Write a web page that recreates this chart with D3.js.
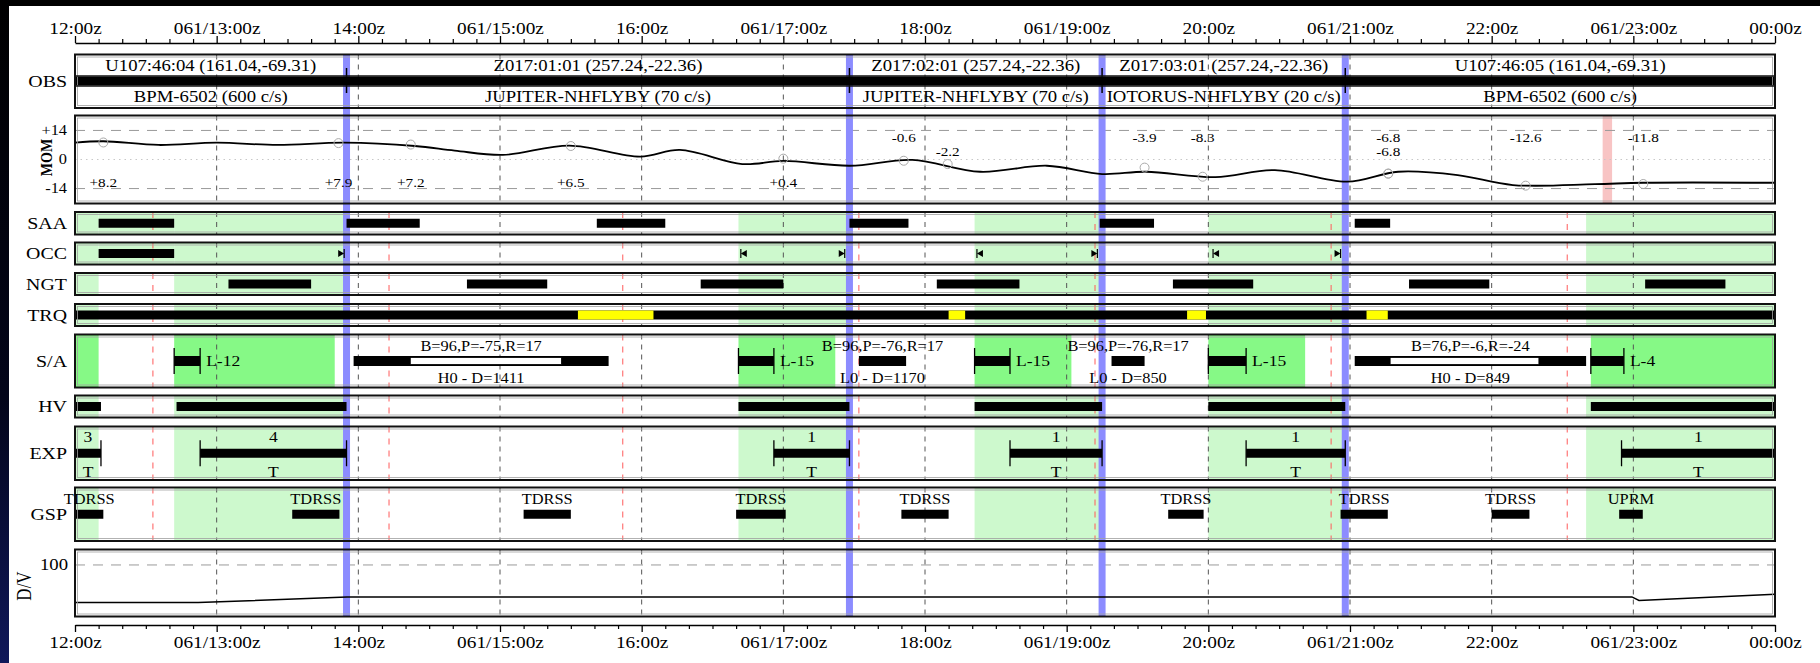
<!DOCTYPE html>
<html>
<head>
<meta charset="utf-8">
<title>timeline 061</title>
<script src="https://cdn.jsdelivr.net/npm/d3@7/dist/d3.min.js"></script>
<style>
body { margin: 0; background: #fff; }
svg { display: block; }
</style>
</head>
<body>
<svg id="chart" width="1820" height="663"></svg>
<script>
// values; times are hh:mm, "24:00" is 00:00z of the next day

var tickHours = [12, 13, 14, 15, 16, 17, 18, 19, 20, 21, 22, 23, 24];
var tickLabels = ["12:00z", "061/13:00z", "14:00z", "061/15:00z", "16:00z", "061/17:00z",
	"18:00z", "061/19:00z", "20:00z", "061/21:00z", "22:00z", "061/23:00z", "00:00z"];

// observation changes (blue bars) and what is observed in between
var obsBreaks = ["13:55", "17:28", "19:15", "20:58"];
var obsTargets = ["U107:46:04 (161.04,-69.31)", "Z017:01:01 (257.24,-22.36)",
	"Z017:02:01 (257.24,-22.36)", "Z017:03:01 (257.24,-22.36)", "U107:46:05 (161.04,-69.31)"];
var obsModes = ["BPM-6502 (600 c/s)", "JUPITER-NHFLYBY (70 c/s)", "JUPITER-NHFLYBY (70 c/s)",
	"IOTORUS-NHFLYBY (20 c/s)", "BPM-6502 (600 c/s)"];

var orbitMarks = ["12:33", "14:13", "15:52", "17:32", "19:12", "20:52", "22:32"];

var dayGreen = [["12:00", "12:10"], ["12:42", "13:55"], ["16:41", "17:28"],
	["18:21", "19:15"], ["20:00", "20:58"], ["22:40", "24:00"]];
var saaGreen = [["12:10", "12:42"]];
var slewGreen = [["12:00", "12:10"], ["12:42", "13:50"], ["16:41", "17:22"],
	["18:21", "19:02"], ["20:00", "20:41"], ["22:42", "24:00"]];

// momentum
var momHours = [12.00, 12.20, 12.59, 13.00, 13.43, 13.90, 14.40, 14.68, 15.02, 15.49, 15.99,
	16.27, 16.71, 17.00, 17.47, 17.91, 18.39, 18.86, 19.25, 19.56, 20.05, 20.47, 20.98,
	21.34, 21.76, 22.15, 22.73, 23.07, 24.00];
var momValues = [8.1, 8.8, 7.0, 8.1, 7.0, 8.1, 6.5, 4.3, 2.2, 6.7, 1.4,
	4.6, -2.2, -0.7, -3.0, -0.2, -5.9, -3.0, -7.0, -5.9, -8.5, -5.1, -10.7,
	-5.9, -7.5, -12.3, -11.9, -11.2, -11.2];
var momMarkHours = [12.20, 13.86, 14.37, 15.50, 17.00, 17.85, 18.16, 19.55, 19.96, 21.27, 21.27, 22.24, 23.07];
var momMarkValues = [8.2, 7.9, 7.2, 6.5, 0.4, -0.6, -2.2, -3.9, -8.3, -6.8, -6.8, -12.6, -11.8];
var momTicks = [14, 0, -14];
var momPink = ["22:47", "22:51"];

var saaBars = [["12:10", "12:42"], ["13:55", "14:26"], ["15:41", "16:10"],
	["17:28", "17:53"], ["19:14", "19:37"], ["21:02", "21:17"]];
var occBars = [["12:10", "12:42"]];
var occStarts = ["16:42", "18:22", "20:02"];
var occEnds = ["13:54", "17:26", "19:13", "20:56"];
var ngtBars = [["13:05", "13:40"], ["14:46", "15:20"], ["16:25", "17:00"], ["18:05", "18:40"],
	["19:45", "20:19"], ["21:25", "21:59"], ["23:05", "23:39"]];
var trqYellow = [["15:33", "16:05"], ["18:10", "18:17"], ["19:51", "19:59"], ["21:07", "21:16"]];

var holdStart = ["12:42", "16:41", "18:21", "20:00", "22:42"];
var holdEnd = ["12:53", "16:56", "18:36", "20:16", "22:56"];
var holdLabel = ["L-12", "L-15", "L-15", "L-15", "L-4"];

var slewStart = ["13:58", "17:32", "19:19", "21:02"];
var slewEnd = ["15:46", "17:52", "19:33", "22:40"];
var slewHollow = [["14:22", "15:26"], null, null, ["21:17", "22:20"]];
var slewAttitude = ["B=96,P=-75,R=17", "B=96,P=-76,R=17", "B=96,P=-76,R=17", "B=76,P=-6,R=-24"];
var slewLabel = ["H0 - D=1411", "L0 - D=1170", "L0 - D=850", "H0 - D=849"];

var hvBars = [["12:00", "12:11"], ["12:43", "13:55"], ["16:41", "17:28"],
	["18:21", "19:15"], ["20:00", "20:58"], ["22:42", "24:00"]];

var expBars = [["12:00", "12:11"], ["12:53", "13:55"], ["16:56", "17:28"],
	["18:36", "19:15"], ["20:16", "20:58"], ["22:55", "24:00"]];
var expCount = ["3", "4", "1", "1", "1", "1"];
var expMode = ["T", "T", "T", "T", "T", "T"];

var gspBars = [["12:00", "12:12"], ["13:32", "13:52"], ["15:10", "15:30"], ["16:40", "17:01"],
	["17:50", "18:10"], ["19:43", "19:58"], ["20:56", "21:16"], ["22:00", "22:16"], ["22:54", "23:04"]];
var gspLabel = ["TDRSS", "TDRSS", "TDRSS", "TDRSS", "TDRSS", "TDRSS", "TDRSS", "TDRSS", "UPRM"];

var dvHours = [12.00, 12.87, 13.92, 22.99, 23.04, 24.00];
var dvValues = [27, 27, 38, 38, 31, 43];


function hm(s) {
	var p = s.split(":");
	return +p[0] + (+p[1]) / 60;
}

var svg = d3.select("#chart");
var X0 = 75, X1 = 1775;
var x = d3.scaleLinear().domain([12, 24]).range([X0, X1]);
var SX = 1.17;   // the original picture is stretched sideways, text too
var SERIF = "'Liberation Serif','Times New Roman',Times,serif";

var rows = [
	{key: "OBS", y0: 54.5, y1: 108},
	{key: "MOM", y0: 115.5, y1: 203.5},
	{key: "SAA", y0: 212, y1: 234.5},
	{key: "OCC", y0: 242.5, y1: 264.5},
	{key: "NGT", y0: 273, y1: 295},
	{key: "TRQ", y0: 304, y1: 326},
	{key: "S/A", y0: 334.5, y1: 387.5},
	{key: "HV", y0: 395.5, y1: 417.5},
	{key: "EXP", y0: 426.5, y1: 480},
	{key: "GSP", y0: 487.5, y1: 541},
	{key: "D/V", y0: 549.5, y1: 616.5}
];
var row = {};
rows.forEach(function(r){
	r.mid = (r.y0 + r.y1) / 2;
	row[r.key] = r;
});

var yMom = d3.scaleLinear().domain([-21.2, 21.2]).range([row.MOM.y1, row.MOM.y0]);
var yDv = d3.scaleLinear().domain([0, 130]).range([row["D/V"].y1, row["D/V"].y0]);

// edge of the screenshot
var defs = svg.append("defs");
var grad = defs.append("linearGradient").attr("id", "edge").attr("x1", 0).attr("y1", 0).attr("x2", 0).attr("y2", 1);
grad.append("stop").attr("offset", "0").attr("stop-color", "#000");
grad.append("stop").attr("offset", "0.6").attr("stop-color", "#03051a");
grad.append("stop").attr("offset", "1").attr("stop-color", "#10185a");
svg.append("rect").attr("x", 0).attr("y", 0).attr("width", 1820).attr("height", 6).attr("fill", "#000");
svg.append("rect").attr("x", 0).attr("y", 0).attr("width", 9).attr("height", 663).attr("fill", "url(#edge)");

var gBack = svg.append("g"),
	gGrid = svg.append("g"),
	gBlue = svg.append("g"),
	gMark = svg.append("g"),
	gFrame = svg.append("g"),
	gText = svg.append("g");

function put(g, px, py, s, size, anchor, weight) {
	return g.append("text")
		.attr("transform", "translate(" + px + "," + py + ") scale(" + SX + ",1)")
		.attr("text-anchor", anchor || "middle")
		.attr("dy", "0.34em")
		.attr("font-family", SERIF)
		.attr("font-size", size)
		.attr("font-weight", weight || null)
		.text(s);
}

function span(g, key, list, h, color) {
	var r = row[key];
	g.selectAll(null).data(list).enter().append("rect")
		.attr("x", function(d){ return x(hm(d[0])); })
		.attr("width", function(d){ return x(hm(d[1])) - x(hm(d[0])); })
		.attr("y", h ? r.mid - h / 2 : r.y0)
		.attr("height", h ? h : r.y1 - r.y0)
		.attr("fill", color);
}

// panel backgrounds and shading
rows.forEach(function(r){
	gBack.append("rect").attr("x", X0).attr("y", r.y0).attr("width", X1 - X0).attr("height", r.y1 - r.y0).attr("fill", "#fff");
});
["SAA", "OCC", "NGT", "TRQ", "HV", "EXP", "GSP"].forEach(function(k){
	span(gBack, k, dayGreen, 0, "#cdf9cd");
});
span(gBack, "SAA", saaGreen, 0, "#cdf9cd");
span(gBack, "OCC", saaGreen, 0, "#cdf9cd");
span(gBack, "S/A", slewGreen, 0, "#86f986");
gBack.append("rect")
	.attr("x", x(hm(momPink[0]))).attr("width", x(hm(momPink[1])) - x(hm(momPink[0])))
	.attr("y", row.MOM.y0).attr("height", row.MOM.y1 - row.MOM.y0)
	.attr("fill", "#f8c4c4");

// hour grid
rows.forEach(function(r){
	gGrid.selectAll(null).data(tickHours.slice(1, -1)).enter().append("line")
		.attr("x1", function(d){ return x(d); }).attr("x2", function(d){ return x(d); })
		.attr("y1", r.y0).attr("y2", r.y1)
		.attr("stroke", "#555").attr("stroke-width", 1).attr("stroke-dasharray", "5,5");
});
["SAA", "OCC", "NGT", "TRQ", "S/A", "HV", "EXP", "GSP"].forEach(function(k){
	var r = row[k];
	gGrid.selectAll(null).data(orbitMarks).enter().append("line")
		.attr("x1", function(d){ return x(hm(d)); }).attr("x2", function(d){ return x(hm(d)); })
		.attr("y1", r.y0).attr("y2", r.y1)
		.attr("stroke", "#ff5a5a").attr("stroke-width", 1).attr("stroke-dasharray", "6,6");
});
momTicks.forEach(function(v){
	gGrid.append("line").attr("x1", X0).attr("x2", X1).attr("y1", yMom(v)).attr("y2", yMom(v))
		.attr("stroke", v == 0 ? "#c8c8c8" : "#9a9a9a").attr("stroke-width", 1)
		.attr("stroke-dasharray", v == 0 ? "1.5,4" : "10,8");
});
gGrid.append("line").attr("x1", X0).attr("x2", X1).attr("y1", yDv(100)).attr("y2", yDv(100))
	.attr("stroke", "#9a9a9a").attr("stroke-width", 1).attr("stroke-dasharray", "10,8");

// observation changes
gBlue.selectAll(null).data(obsBreaks).enter().append("rect")
	.attr("x", function(d){ return x(hm(d)) - 3.5; })
	.attr("width", 7)
	.attr("y", row.OBS.y0).attr("height", row["D/V"].y1 - row.OBS.y0)
	.attr("fill", "#8c8cff");

// OBS
var obsEdges = ["12:00"].concat(obsBreaks, ["24:00"]);
gMark.append("rect").attr("x", X0).attr("width", X1 - X0).attr("y", 76.5).attr("height", 9).attr("fill", "#000");
gMark.selectAll(null).data(obsBreaks).enter().append("line")
	.attr("x1", function(d){ return x(hm(d)); }).attr("x2", function(d){ return x(hm(d)); })
	.attr("y1", 68).attr("y2", 93).attr("stroke", "#000").attr("stroke-width", 1.5);
obsTargets.forEach(function(s, i){
	var cx = (x(hm(obsEdges[i])) + x(hm(obsEdges[i + 1]))) / 2;
	put(gText, cx, 66, s, 16);
	put(gText, cx, 96.5, obsModes[i], 16);
});

// MOM
var momLine = d3.line()
	.x(function(d){ return x(d[0]); })
	.y(function(d){ return yMom(d[1]); })
	.curve(d3.curveCatmullRom);
gMark.append("path")
	.datum(momHours.map(function(h, i){ return [h, momValues[i]]; }))
	.attr("d", momLine).attr("fill", "none").attr("stroke", "#000").attr("stroke-width", 1.8);
gMark.selectAll(null).data(momMarkHours).enter().append("circle")
	.attr("cx", function(d){ return x(d); })
	.attr("cy", function(d, i){ return yMom(momMarkValues[i]); })
	.attr("r", 4.5).attr("fill", "none").attr("stroke", "#aaa").attr("stroke-width", 1);
var lastTop = -1e9, topLevel = 0;
momMarkHours.forEach(function(h, i){
	var v = momMarkValues[i], px = x(h), py;
	var s = (v > 0 ? "+" : "") + v.toFixed(1);
	if (v > 0) {
		py = 183;
	} else {
		topLevel = (px - lastTop < 50 && topLevel == 0) ? 1 : 0;
		lastTop = px;
		py = topLevel ? 151.5 : 138;
	}
	put(gText, px, py, s, 13);
});

// SAA, OCC, NGT, TRQ
span(gMark, "SAA", saaBars, 9, "#000");
span(gMark, "OCC", occBars, 9, "#000");
span(gMark, "NGT", ngtBars, 9, "#000");
span(gMark, "TRQ", [["12:00", "24:00"]], 9, "#000");
span(gMark, "TRQ", trqYellow, 9, "#ffff00");

function occMark(t, dir) {
	var px = x(hm(t)), cy = row.OCC.mid;
	gMark.append("line").attr("x1", px).attr("x2", px).attr("y1", cy - 4.5).attr("y2", cy + 4.5)
		.attr("stroke", "#000").attr("stroke-width", 1.2);
	gMark.append("path")
		.attr("d", "M" + px + "," + cy + "L" + (px - 6 * dir) + "," + (cy - 3.5) + "L" + (px - 6 * dir) + "," + (cy + 3.5) + "Z")
		.attr("fill", "#000");
}
occStarts.forEach(function(t){ occMark(t, -1); });
occEnds.forEach(function(t){ occMark(t, 1); });

// S/A
var sa = row["S/A"];
function endTick(px, r) {
	gMark.append("line").attr("x1", px).attr("x2", px).attr("y1", r.mid - 13).attr("y2", r.mid + 13)
		.attr("stroke", "#000").attr("stroke-width", 1.3);
}
holdStart.forEach(function(t, i){
	var a = x(hm(t)), b = x(hm(holdEnd[i]));
	gMark.append("rect").attr("x", a).attr("width", b - a).attr("y", sa.mid - 5).attr("height", 10).attr("fill", "#000");
	endTick(a, sa);
	endTick(b, sa);
	put(gText, b + 6, sa.mid, holdLabel[i], 15, "start");
});
slewStart.forEach(function(t, i){
	var a = x(hm(t)), b = x(hm(slewEnd[i]));
	gMark.append("rect").attr("x", a).attr("width", b - a).attr("y", sa.mid - 5).attr("height", 10).attr("fill", "#000");
	if (slewHollow[i]) {
		var ha = x(hm(slewHollow[i][0])), hb = x(hm(slewHollow[i][1]));
		gMark.append("rect").attr("x", ha).attr("width", hb - ha).attr("y", sa.mid - 3.5).attr("height", 7)
			.attr("fill", "#fff").attr("stroke", "#000").attr("stroke-width", 0.8);
	}
	put(gText, (a + b) / 2, 346, slewAttitude[i], 14);
	put(gText, (a + b) / 2, 378, slewLabel[i], 14);
});

// HV
span(gMark, "HV", hvBars, 9, "#000");

// EXP
var ex = row.EXP;
expBars.forEach(function(d, i){
	var a = x(hm(d[0])), b = x(hm(d[1]));
	gMark.append("rect").attr("x", a).attr("width", b - a).attr("y", ex.mid - 4.5).attr("height", 9).attr("fill", "#000");
	if (d[0] != "12:00") endTick(a, ex);
	if (d[1] != "24:00") endTick(b, ex);
	put(gText, (a + b) / 2, 437, expCount[i], 15);
	put(gText, (a + b) / 2, 472, expMode[i], 15);
});

// GSP
span(gMark, "GSP", gspBars, 9, "#000");
gspBars.forEach(function(d, i){
	put(gText, (x(hm(d[0])) + x(hm(d[1]))) / 2, 499.5, gspLabel[i], 14);
});

// D/V
var dvLine = d3.line().x(function(d){ return x(d[0]); }).y(function(d){ return yDv(d[1]); });
gMark.append("path")
	.datum(dvHours.map(function(h, i){ return [h, dvValues[i]]; }))
	.attr("d", dvLine).attr("fill", "none").attr("stroke", "#000").attr("stroke-width", 1.5);

// frames
rows.forEach(function(r){
	gFrame.append("rect").attr("x", X0).attr("y", r.y0).attr("width", X1 - X0).attr("height", r.y1 - r.y0)
		.attr("fill", "none").attr("stroke", "#111").attr("stroke-width", 2);
	gFrame.append("rect").attr("x", X0 + 2.5).attr("y", r.y0 + 2.5).attr("width", X1 - X0 - 5).attr("height", r.y1 - r.y0 - 5)
		.attr("fill", "none").attr("stroke", "#a0a0a0").attr("stroke-width", 0.8);
});
// OBS is two boxes split by the black bar
gFrame.append("line").attr("x1", X0).attr("x2", X1).attr("y1", 76).attr("y2", 76).attr("stroke", "#111").attr("stroke-width", 1.5);
gFrame.append("line").attr("x1", X0).attr("x2", X1).attr("y1", 86).attr("y2", 86).attr("stroke", "#111").attr("stroke-width", 1.5);

// row labels
["OBS", "SAA", "OCC", "NGT", "TRQ", "S/A", "HV", "EXP", "GSP"].forEach(function(k){
	put(gText, 67, row[k].mid, k, 17, "end");
});
momTicks.forEach(function(v){
	put(gText, 67, yMom(v), v > 0 ? "+" + v : String(v), 14, "end");
});
gText.append("text")
	.attr("transform", "translate(46," + (row.MOM.mid - 2) + ") scale(" + SX + ",1) rotate(-90)")
	.attr("text-anchor", "middle").attr("dy", "0.34em")
	.attr("font-family", SERIF).attr("font-size", 14).attr("font-weight", "bold")
	.text("MOM");
put(gText, 68, yDv(100), "100", 16, "end");
gText.append("text")
	.attr("transform", "translate(24," + (row["D/V"].mid + 3) + ") scale(" + SX + ",1) rotate(-90)")
	.attr("text-anchor", "middle").attr("dy", "0.34em")
	.attr("font-family", SERIF).attr("font-size", 17)
	.text("D/V");

// time axes, top and bottom
var minorTicks = d3.range(12, 24.001, 1 / 6).filter(function(d){ return Math.abs(d - Math.round(d)) > 0.01; });

function drawAxis(axisFn, yPos, pad) {
	var g = svg.append("g").attr("transform", "translate(0," + yPos + ")")
		.call(axisFn(x).tickValues(tickHours)
			.tickFormat(function(d, i){ return tickLabels[i]; })
			.tickSize(7).tickSizeOuter(0).tickPadding(pad));
	g.attr("font-family", SERIF).attr("font-size", 16.5);
	g.selectAll("text").attr("transform", "scale(" + SX + ",1)").attr("fill", "#000");
	g.selectAll("line").attr("stroke", "#000").attr("stroke-width", 1.3);
	g.select(".domain").attr("stroke", "#000").attr("stroke-width", 1.5);
	var m = svg.append("g").attr("transform", "translate(0," + yPos + ")")
		.call(axisFn(x).tickValues(minorTicks).tickFormat("").tickSize(4).tickSizeOuter(0));
	m.select(".domain").remove();
	m.selectAll("line").attr("stroke", "#000").attr("stroke-width", 1.2);
}
drawAxis(d3.axisTop, 43, 2);
drawAxis(d3.axisBottom, 625, 4);
</script>
</body>
</html>
